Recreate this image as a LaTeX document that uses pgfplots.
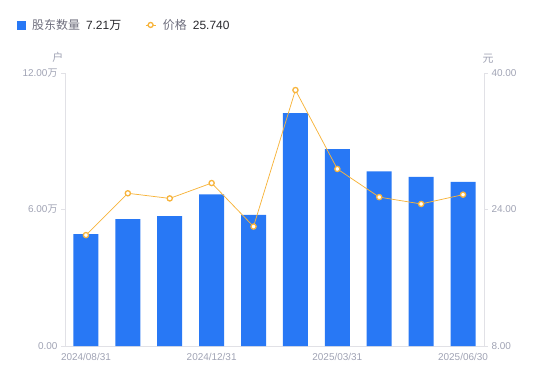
\documentclass[border=0pt]{standalone}
\usepackage{pgfplots}
\pgfplotsset{compat=1.18}
\usepackage{fontspec}
\setmainfont{Liberation Sans}
\newfontfamily\cjk{Noto Sans CJK SC}
\definecolor{barblue}{RGB}{40,120,245}
\definecolor{lineorange}{RGB}{247,180,60}
\definecolor{tickgray}{RGB}{160,163,180}
\definecolor{axisgray}{RGB}{225,225,230}
\definecolor{legtext}{RGB}{110,110,125}
\definecolor{valtext}{RGB}{40,40,45}
\pgfplotsset{
  every outer x axis line/.append style={-},
  every outer y axis line/.append style={-},
}
\begin{document}
\begin{tikzpicture}
\useasboundingbox (0,0) rectangle (550bp,381bp);
\begin{axis}[
  at={(65bp,35bp)}, anchor=south west,
  scale only axis, width=419bp, height=273bp,
  xmin=-0.5, xmax=9.5, ymin=0, ymax=12,
  axis y line*=left, axis x line*=bottom,
  axis line style={draw=axisgray, line width=0.75bp},
  xtick={0,3,6,9},
  xticklabels={2024/08/31,2024/12/31,2025/03/31,2025/06/30},
  x tick style={draw=none},
  ytick={0,6,12},
  yticklabels={0.00,6.00{\cjk 万},12.00{\cjk 万}},
  y tick style={draw=axisgray, line width=0.75bp},
  tick align=outside, major tick length=4bp,
  tick label style={font=\fontsize{10}{12}\selectfont, text=tickgray},
  ylabel={\cjk 户},
  ylabel style={at={(axis description cs:-0.017,1.057)}, rotate=-90, anchor=center, font=\fontsize{11}{13}\selectfont, text=tickgray},
  ybar, bar width=25bp,
  clip=false,
]
\addplot[fill=barblue, draw=none] coordinates {
 (0,4.92) (1,5.58) (2,5.71) (3,6.67) (4,5.76) (5,10.24) (6,8.65) (7,7.68) (8,7.43) (9,7.21)
};
\end{axis}
\begin{axis}[
  at={(65bp,35bp)}, anchor=south west,
  scale only axis, width=419bp, height=273bp,
  xmin=-0.5, xmax=9.5, ymin=8, ymax=40,
  axis y line*=right, axis x line=none,
  axis line style={draw=axisgray, line width=0.75bp},
  ytick={8,24,40},
  yticklabels={8.00,24.00,40.00},
  y tick style={draw=axisgray, line width=0.75bp},
  tick align=outside, major tick length=4bp,
  tick label style={font=\fontsize{10}{12}\selectfont, text=tickgray},
  ylabel={\cjk 元},
  ylabel style={at={(axis description cs:1.0095,1.051)}, rotate=-90, anchor=center, font=\fontsize{11}{13}\selectfont, text=tickgray},
  clip=false,
  legend columns=2,
  legend style={at={(axis description cs:-0.1155,1.176)}, anchor=west, draw=none, fill=none,
    font=\fontsize{12}{14}\selectfont, text=legtext, inner sep=0pt,
    /tikz/every odd column/.append style={column sep=5bp},
    /tikz/every even column/.append style={column sep=22bp}},
]
\addlegendimage{legend image code/.code={\fill[barblue] (0bp,-4bp) rectangle (8bp,4bp);}}
\addlegendentry{{\cjk 股东数量}\hspace{6bp}{\color{valtext}7.21{\cjk 万}}}
\addplot[lineorange, line width=0.75bp, mark=*, mark size=2.6bp,
  mark options={fill=white, draw=lineorange, line width=1.3bp},
  legend image code/.code={\draw[lineorange, line width=0.75bp] (0bp,0bp)--(10bp,0bp);
    \draw[lineorange, line width=1.3bp, fill=white] (5bp,0bp) circle (2.5bp);}]
 coordinates {
 (0,21.0) (1,25.9) (2,25.3) (3,27.1) (4,22.0) (5,38.0) (6,28.75) (7,25.45) (8,24.65) (9,25.74)
};
\addlegendentry{{\cjk 价格}\hspace{6bp}{\color{valtext}25.740}}
\end{axis}
\end{tikzpicture}
\end{document}
